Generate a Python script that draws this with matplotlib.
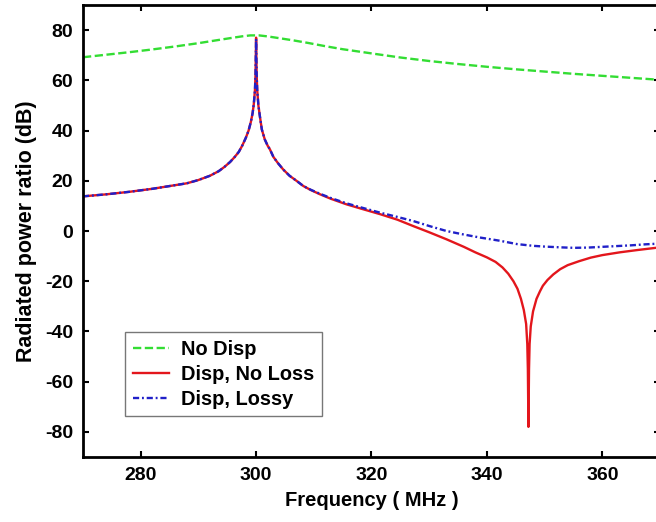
import matplotlib
matplotlib.use("Agg")
import matplotlib.pyplot as plt

plt.rcParams['font.family'] = ['Liberation Sans', 'DejaVu Sans']
plt.rcParams['font.weight'] = 'bold'
plt.rcParams['axes.unicode_minus'] = False

# Frequency (MHz) and radiated power ratio (dB) for each case
freq_nodisp = [270, 274, 278, 282, 286, 290, 293, 295.5, 297.5, 299, 300.5, 302,
               304, 306.5, 309, 312, 315, 318, 321, 325, 330, 335, 340, 345, 350,
               355, 360, 365, 370]
ratio_nodisp = [69.2, 70.2, 71.2, 72.3, 73.5, 74.8, 75.9, 76.8, 77.5, 77.9, 77.9,
                77.5, 76.8, 75.9, 74.9, 73.6, 72.4, 71.4, 70.4, 69.1, 67.7, 66.5,
                65.4, 64.4, 63.5, 62.6, 61.8, 61.0, 60.2]

freq_noloss = [270, 274, 278, 282, 285, 288, 290, 292, 293.5, 294.5, 295.5, 296.3,
               297, 297.6, 298.2, 298.7, 299.1, 299.4, 299.6, 299.8, 299.9, 300.0,
               300.1, 300.2, 300.4, 300.7, 301, 301.5, 302, 302.4, 303, 303.8,
               304.7, 305.8, 307, 308.2, 309.5, 311.1, 313, 315.7, 318.5, 321.5,
               324.5, 327.2, 330, 333, 336, 338, 340, 341.5, 342.7, 343.7, 344.6,
               345.3, 345.9, 346.4, 346.8, 347.0, 347.1, 347.2, 347.3, 347.4,
               347.6, 348.0, 348.6, 349.2, 349.7, 350.5, 351.5, 352.7, 354, 356,
               358, 360, 363, 366, 370]
ratio_noloss = [13.8, 14.6, 15.6, 16.8, 17.9, 19.0, 20.3, 22.0, 23.8, 25.5, 27.5,
                29.5, 31.5, 34.0, 37.0, 40.0, 43.5, 47.0, 50.5, 56.0, 62.0, 77.0,
                62.0, 56.0, 50.0, 45.0, 40.4, 36.5, 34.0, 32.5, 29.5, 27.0, 24.5,
                22.0, 20.0, 17.9, 16.3, 14.6, 12.8, 10.6, 8.7, 6.7, 4.5, 2.0, -0.5,
                -3.3, -6.3, -8.5, -10.5, -12.3, -14.5, -17.0, -20.0, -23.0, -27.0,
                -31.5, -37.0, -45.0, -55.0, -78.0, -55.0, -45.0, -38.0, -32.0,
                -27.0, -24.0, -21.8, -19.5, -17.3, -15.2, -13.6, -12.0, -10.6,
                -9.6, -8.5, -7.6, -6.5]

freq_lossy = [270, 274, 278, 282, 285, 288, 290, 292, 293.5, 294.5, 295.5, 296.3,
              297, 297.6, 298.2, 298.7, 299.1, 299.4, 299.6, 299.8, 299.9, 300.0,
              300.1, 300.2, 300.4, 300.7, 301, 301.5, 302, 302.4, 303, 303.8,
              304.7, 305.8, 307, 308.2, 309.5, 311.1, 313, 315.7, 318.5, 321.5,
              324.5, 327.2, 330, 333, 336, 338.8, 342.3, 345.2, 348, 350, 352.7,
              355, 357.5, 360, 362.5, 365, 367.5, 370]
ratio_lossy = [13.8, 14.6, 15.6, 16.8, 17.9, 19.0, 20.3, 22.0, 23.8, 25.5, 27.5,
               29.5, 31.5, 34.0, 37.0, 40.0, 43.5, 47.0, 50.5, 56.0, 62.0, 76.5,
               62.0, 56.0, 50.0, 45.0, 40.4, 36.5, 34.0, 32.5, 29.5, 27.0, 24.5,
               22.0, 20.0, 17.9, 16.4, 14.8, 13.1, 11.0, 9.2, 7.3, 5.6, 4.0, 2.0,
               0.0, -1.4, -2.6, -3.9, -5.2, -5.9, -6.2, -6.5, -6.7, -6.6, -6.3,
               -6.0, -5.7, -5.3, -5.0]

x_ticks = [280, 300, 320, 340, 360]
y_ticks = [-80, -60, -40, -20, 0, 20, 40, 60, 80]

fig = plt.figure(figsize=(6.56, 5.22), dpi=100)
ax = fig.add_axes([0.1265, 0.1245, 0.8796, 0.8659])

ax.plot(freq_nodisp, ratio_nodisp, color='#33dd33', lw=1.7, dashes=(3.5, 1.5),
        label='No Disp')
ax.plot(freq_noloss, ratio_noloss, color='#e3161c', lw=1.7, label='Disp, No Loss')
ax.plot(freq_lossy, ratio_lossy, color='#2020c8', lw=1.7,
        dashes=(2.6, 1.2, 0.8, 1.2), label='Disp, Lossy')

ax.set_xlim(270, 370)
ax.set_ylim(-90, 90)
ax.set_xticks(x_ticks)
ax.set_yticks(y_ticks)

for side in ax.spines.values():
    side.set_linewidth(2)
ax.tick_params(direction='in', length=4, width=1.5, top=True, right=True,
               labelsize=14, pad=7)

ax.set_xlabel('Frequency ( MHz )', fontsize=14.5, fontweight='bold', labelpad=5)
ax.set_ylabel('Radiated power ratio (dB)', fontsize=15.5, fontweight='bold',
              labelpad=6)

leg = ax.legend(loc='lower left', bbox_to_anchor=(0.073, 0.09), borderaxespad=0,
                fontsize=14.4, fancybox=False, framealpha=1, edgecolor='#777777',
                handlelength=1.8, handletextpad=0.6, labelspacing=0.3,
                borderpad=0.38)
leg.get_frame().set_linewidth(1.0)

fig.savefig('out.png', dpi=100)
